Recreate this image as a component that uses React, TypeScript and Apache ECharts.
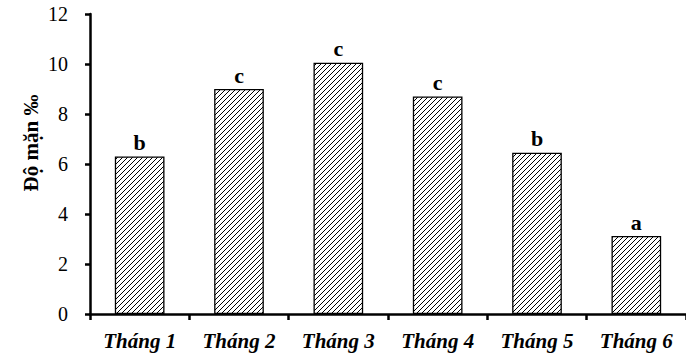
import React, { useEffect, useRef } from "react";
import * as echarts from "echarts";

const categories = ["Tháng 1", "Tháng 2", "Tháng 3", "Tháng 4", "Tháng 5", "Tháng 6"];
const salinity = [6.3, 9.0, 10.05, 8.7, 6.45, 3.12];
const groupLetters = ["b", "c", "c", "c", "b", "a"];
const yTicks = { min: 0, max: 12, interval: 2 };
const yTitle = "Độ mặn ‰";

const hatchSvg =
  '<svg xmlns="http://www.w3.org/2000/svg" width="5" height="5">' +
  '<rect width="5" height="5" fill="#fff"/>' +
  '<path d="M0 5L5 0M-1 1L1 -1M4 6L6 4" stroke="#000" stroke-width="1"/></svg>';
const hatchUrl = "data:image/svg+xml;base64," + btoa(hatchSvg);

const serif = "'Liberation Serif', 'Times New Roman', serif";

export default function App() {
  const ref = useRef<HTMLDivElement>(null);

  useEffect(() => {
    document.body.style.margin = "0";
    if (!ref.current) return;
    const chart = echarts.init(ref.current, undefined, { renderer: "svg" });
    chart.setOption({
      animation: false,
      grid: { left: 90, right: -6, top: 14, bottom: 39, containLabel: false },
      graphic: [
        {
          type: "text",
          x: 31,
          y: 143,
          rotation: Math.PI / 2,
          style: {
            text: yTitle,
            fill: "#000",
            font: `bold 21px ${serif}`,
            align: "center",
            verticalAlign: "middle",
          },
        },
      ],
      xAxis: {
        type: "category",
        data: categories,
        axisLine: { lineStyle: { color: "#000", width: 2.5 } },
        axisTick: { show: true, length: 6, lineStyle: { color: "#000", width: 2.5 } },
        axisLabel: {
          color: "#000",
          fontFamily: serif,
          fontSize: 21,
          fontWeight: "bold",
          fontStyle: "italic",
          margin: 16,
        },
      },
      yAxis: {
        type: "value",
        min: yTicks.min,
        max: yTicks.max,
        interval: yTicks.interval,
        axisLine: { show: true, lineStyle: { color: "#000", width: 2.5 } },
        axisTick: { show: true, length: 5, lineStyle: { color: "#000", width: 2.5 } },
        splitLine: { show: false },
        axisLabel: { color: "#000", fontFamily: serif, fontSize: 20, margin: 22 },
      },
      series: [
        {
          type: "bar",
          data: salinity,
          barWidth: "50%",
          itemStyle: {
            color: { image: hatchUrl, repeat: "repeat", imageWidth: 5, imageHeight: 5 } as any,
            borderColor: "#000",
            borderWidth: 1.3,
          },
          label: {
            show: true,
            position: "top",
            distance: 3,
            color: "#000",
            fontFamily: serif,
            fontSize: 22,
            fontWeight: "bold",
            formatter: (p: any) => groupLetters[p.dataIndex],
          },
        },
      ],
    });
    return () => chart.dispose();
  }, []);

  return <div ref={ref} style={{ width: 686, height: 353 }} />;
}
